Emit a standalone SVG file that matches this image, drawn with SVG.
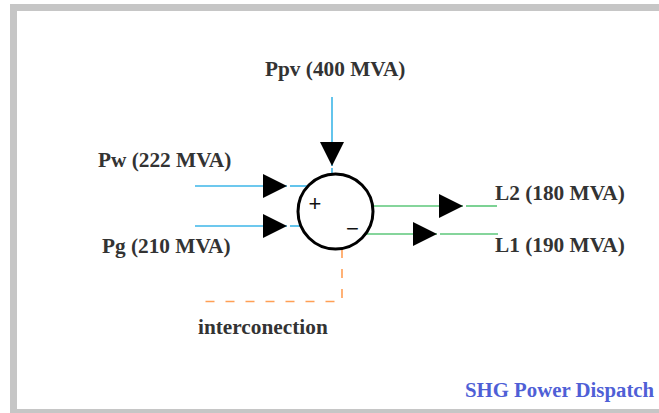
<svg xmlns="http://www.w3.org/2000/svg" width="659" height="413" viewBox="0 0 659 413">
<style>
.lbl{font-family:"Liberation Serif","Times New Roman",serif;font-weight:bold;font-size:21.3px;fill:#333}
.sign{font-family:"Liberation Sans",Arial,sans-serif;font-size:22px;fill:#111;text-anchor:middle}
.blue{stroke:#3db6e8;stroke-width:1.6;fill:none}
.green{stroke:#5cc77a;stroke-width:1.6;fill:none}
.orange{stroke:#ff9f55;stroke-width:1.6;fill:none;stroke-dasharray:9 11}
</style>
<defs>
<marker id="arr" viewBox="0 0 24 24" refX="24" refY="12" markerWidth="24" markerHeight="24" markerUnits="userSpaceOnUse" orient="auto">
<path d="M0,0 L24,12 L0,24 z" fill="#000"/>
</marker>
</defs>
<rect x="0" y="0" width="659" height="413" fill="#fff"/>
<rect x="13.5" y="7.5" width="700" height="405" fill="#fff" stroke="#c6c6c6" stroke-width="7"/>
<g id="connectors">
<path class="blue" d="M332,97 L332,166" marker-end="url(#arr)"/>
<path class="blue" d="M332,168 L332,176"/>
<path class="blue" d="M195,186 L287,186" marker-end="url(#arr)"/>
<path class="blue" d="M290,186 L308,186"/>
<path class="blue" d="M195,226 L287,226" marker-end="url(#arr)"/>
<path class="blue" d="M290,226 L301,226"/>
<path class="green" d="M373,206 L463,206" marker-end="url(#arr)"/>
<path class="green" d="M466,206 L497,206"/>
<path class="green" d="M366,234 L437,234" marker-end="url(#arr)"/>
<path class="green" d="M440,234 L498,234"/>
<path class="orange" d="M342,249 L342,301.5 L197,301.5"/>
</g>
<g id="sum">
<circle cx="335.5" cy="211.5" r="37.5" fill="#fff" stroke="#000" stroke-width="3"/>
<text class="sign" x="315" y="210.5">+</text>
<text class="sign" x="352.5" y="235.5">−</text>
</g>
<g id="ppv"><text class="lbl" x="265" y="76">Ppv (400 MVA)</text></g>
<g id="pw"><text class="lbl" x="98" y="167">Pw (222 MVA)</text></g>
<g id="pg"><text class="lbl" x="102" y="253">Pg (210 MVA)</text></g>
<g id="l2"><text class="lbl" x="495" y="200">L2 (180 MVA)</text></g>
<g id="l1"><text class="lbl" x="495" y="252">L1 (190 MVA)</text></g>
<g id="interconnection"><text class="lbl" x="198" y="334">interconection</text></g>
<g id="title"><text class="lbl" x="465" y="397" style="fill:#4f5fd6;font-size:20.8px">SHG Power Dispatch</text></g>
</svg>
